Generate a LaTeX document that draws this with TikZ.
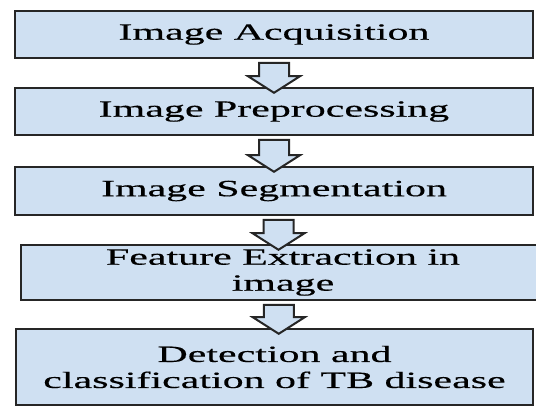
\documentclass[tikz,border=0pt]{standalone}
\usepackage{fontspec}
\setmainfont{Liberation Serif}[FakeStretch=1.8, FakeBold=0.4]
\usepackage{tikz}
\usetikzlibrary{positioning, shapes.arrows, calc}
\definecolor{boxblue}{HTML}{CFE0F2}
\definecolor{edgegray}{HTML}{262626}

\begin{document}
\begin{tikzpicture}[
    stage/.style={rectangle, draw=edgegray, line width=1.1pt, fill=boxblue, minimum width=259pt, minimum height=23.5pt, align=center, inner sep=0pt, outer sep=0pt, font={\fontsize{11.65pt}{13pt}\selectfont}},
    downarrow/.style={single arrow, draw=edgegray, line width=1pt, fill=boxblue, rotate=-90, inner xsep=0pt, inner ysep=7pt, outer sep=0pt, single arrow head extend=5.5pt, single arrow tip angle=115, minimum height=15pt},
]
\useasboundingbox (0,0) rectangle (268pt,-204pt);

\node[stage] (acq) at (137pt,-17.25pt) {Image Acquisition};
\node[stage, below=15pt of acq] (pre) {Image Preprocessing};
\node[stage, below=16pt of pre, minimum height=24pt] (seg) {Image Segmentation};
\node[stage, below=15pt of seg, xshift=4.5pt, minimum width=262pt, minimum height=27.5pt] (feat) {Feature Extraction in\\image};
\node[stage, below=14.5pt of feat, xshift=-4.25pt, minimum width=258.5pt, minimum height=38pt] (det) {Detection and\\classification of TB disease};

\node[downarrow] (a1) at ($(acq.south)!0.5!(pre.north)$) {};
\node[downarrow, minimum height=16pt] (a2) at ($(pre.south)!0.5!(seg.north)$) {};
\node[downarrow] (a3) at ($(seg.south)!0.5!(feat.north)$) {};
\node[downarrow, minimum height=14.5pt] (a4) at ($(feat.south)!0.5!(det.north)$) {};

\end{tikzpicture}
\end{document}
